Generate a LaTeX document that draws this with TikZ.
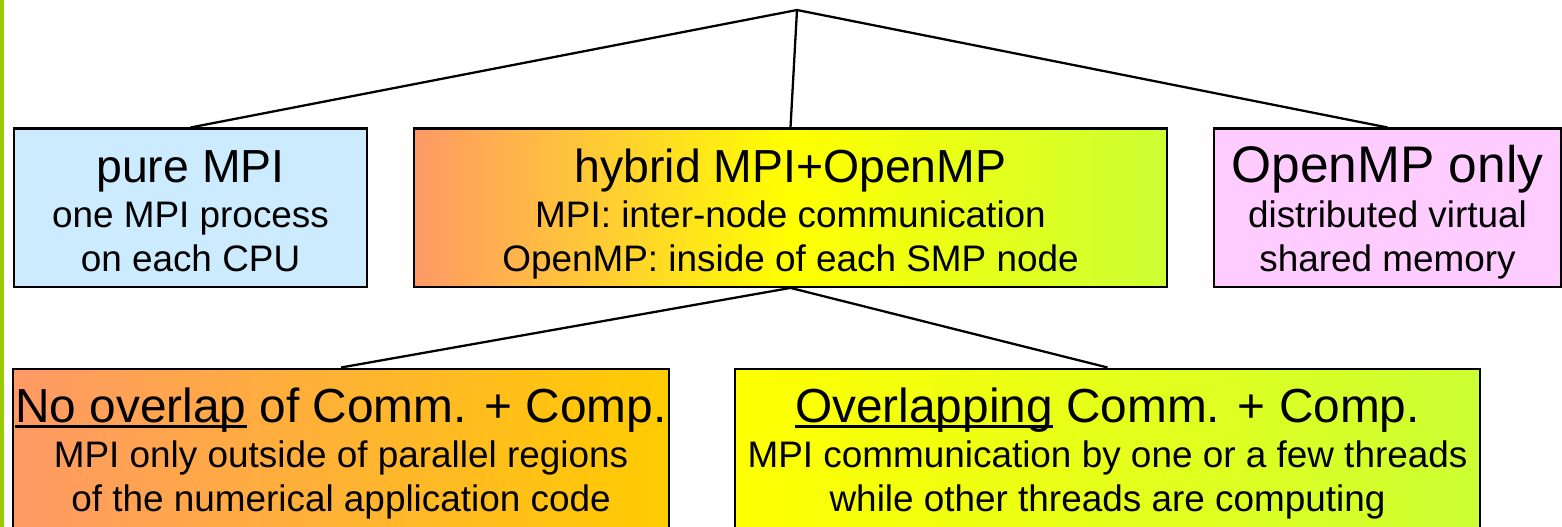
\documentclass[tikz,border=0pt]{standalone}
\usepackage{fontspec}
\setmainfont{Liberation Sans}
\usetikzlibrary{positioning}
\definecolor{barcolor}{HTML}{99CC00}
\definecolor{lightblue}{HTML}{CCEBFF}
\definecolor{lightpink}{HTML}{FFCCFF}
\definecolor{salmon}{HTML}{FF9966}
\definecolor{lime}{HTML}{CCFF33}
\definecolor{amber}{HTML}{FFCC00}

\newcommand{\ttl}[2][26.4pt]{{\fontsize{#1}{25.5pt}\selectfont\rule{0pt}{30.6pt}#2}}
\newcommand{\lastline}[1][8.5pt]{\rule[-#1]{0pt}{#1}}
\newsavebox{\undlbox}
\newcommand{\undl}[1]{\sbox{\undlbox}{#1}\rlap{\rule[-3.4pt]{\wd\undlbox}{1.7pt}}\usebox{\undlbox}}

\begin{document}
\begin{tikzpicture}[
  x=0.02cm, y=-0.02cm,
  box/.style={rectangle, draw=black, line width=1.2pt, anchor=north,
              inner sep=0pt, align=center,
              font=\fontsize{21pt}{25.5pt}\selectfont},
  conn/.style={line width=1.3pt, color=black}
]
\useasboundingbox (0,0) rectangle (1562,527);
\fill[barcolor] (0,0) rectangle (3.5,527);
\coordinate (apex) at (797,10);

\node[box, fill=lightblue, minimum width=7.06cm] (pure) at (190.5,127.5)
  {\ttl{pure MPI}\\one MPI process\\on each CPU\lastline};
\node[box, left color=salmon, right color=lime, middle color=yellow,
      minimum width=15.06cm] (hyb) at (790.5,127.5)
  {\ttl{hybrid MPI+OpenMP}\\MPI: inter-node communication\\OpenMP: inside of each SMP node\lastline};
\node[box, fill=lightpink, minimum width=6.94cm] (omp) at (1387.5,127.5)
  {\ttl[29.3pt]{OpenMP only}\\distributed virtual\\shared memory\lastline};
\node[box, left color=salmon, right color=amber, minimum width=13.12cm] (nolap) at (341,367.5)
  {\ttl[27.2pt]{\undl{No overlap} of Comm. + Comp.}\\MPI only outside of parallel regions\\of the numerical application code\lastline[20pt]};
\node[box, left color=yellow, right color=lime, minimum width=14.9cm] (ovlap) at (1107.5,367.5)
  {\ttl[27.2pt]{\undl{Overlapping} Comm. + Comp.}\\MPI communication by one or a few threads\\while other threads are computing\lastline[20pt]};

\draw[conn] (apex) -- (pure.north);
\draw[conn] (apex) -- (hyb.north);
\draw[conn] (apex) -- (omp.north);
\draw[conn] (hyb.south) -- (nolap.north);
\draw[conn] (hyb.south) -- (ovlap.north);
\end{tikzpicture}
\end{document}
